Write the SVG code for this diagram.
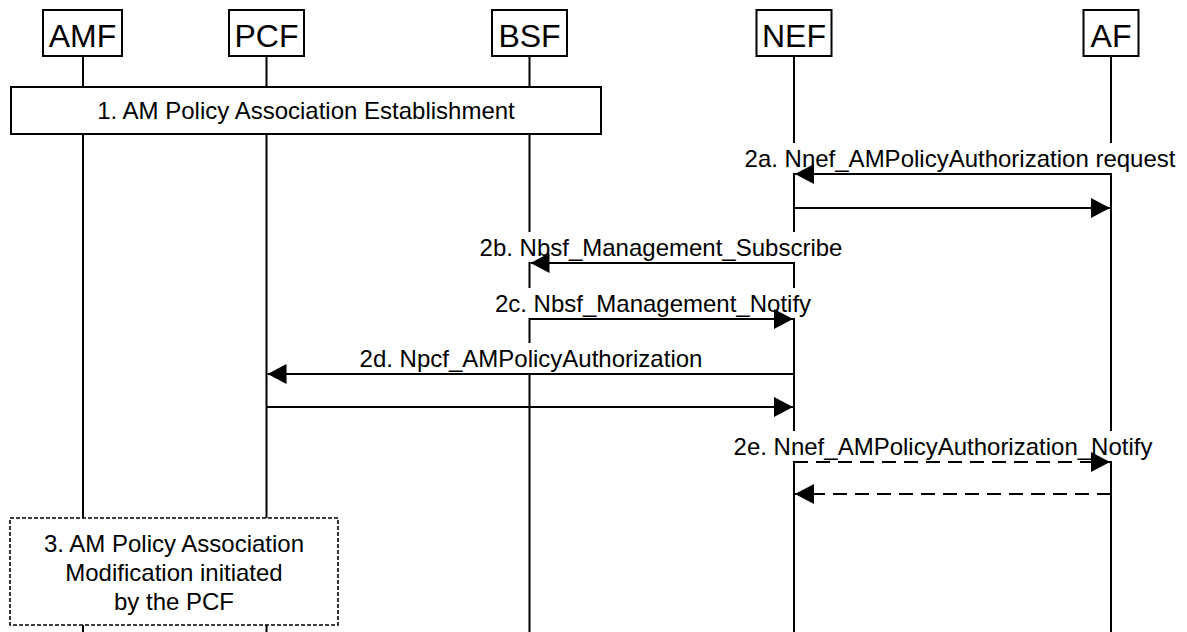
<svg xmlns="http://www.w3.org/2000/svg" width="1187" height="632" viewBox="0 0 1187 632">
<style>
.hdr{fill:#fff;stroke:#000;stroke-width:2}
.hdrt{font-family:"Liberation Sans",Arial,sans-serif;font-size:32px;text-anchor:middle;fill:#000}
.life{stroke:#000;stroke-width:2;fill:none}
.box{fill:#fff;stroke:#000;stroke-width:2}
.dbox{fill:#fff;stroke:#000;stroke-width:1.6;stroke-dasharray:4 2}
.lbl{font-family:"Liberation Sans",Arial,sans-serif;font-size:24px;text-anchor:middle;fill:#000}
.bg{fill:#fff;stroke:none}
.msg{stroke:#000;stroke-width:2;fill:none;marker-end:url(#ah)}
.dash{stroke-dasharray:14 8}
</style>
<defs>
<marker id="ah" markerUnits="userSpaceOnUse" markerWidth="20" markerHeight="20" refX="19" refY="10" orient="auto">
<path d="M0,0 L19,10 L0,20 Z" fill="#000"/>
</marker>
</defs>
<rect width="1187" height="632" fill="#fff"/>
<g id="AMF">
<line class="life" x1="83" y1="56" x2="83" y2="632"/>
<rect class="hdr" x="43" y="10" width="79" height="46"/>
<text class="hdrt" x="82.5" y="47">AMF</text>
</g>
<g id="PCF">
<line class="life" x1="266.5" y1="56" x2="266.5" y2="632"/>
<rect class="hdr" x="229" y="10" width="75" height="46"/>
<text class="hdrt" x="266.5" y="47">PCF</text>
</g>
<g id="BSF">
<line class="life" x1="529.5" y1="56" x2="529.5" y2="632"/>
<rect class="hdr" x="492" y="10" width="75" height="46"/>
<text class="hdrt" x="529.5" y="47">BSF</text>
</g>
<g id="NEF">
<line class="life" x1="794" y1="56" x2="794" y2="632"/>
<rect class="hdr" x="756.5" y="10" width="75" height="46"/>
<text class="hdrt" x="794" y="47">NEF</text>
</g>
<g id="AF">
<line class="life" x1="1111" y1="56" x2="1111" y2="632"/>
<rect class="hdr" x="1083.5" y="10" width="55" height="46"/>
<text class="hdrt" x="1111" y="47">AF</text>
</g>
<g id="step1">
<rect class="box" x="11" y="87" width="590" height="47"/>
<text class="lbl" x="306" y="119">1. AM Policy Association Establishment</text>
</g>
<g id="step3">
<rect class="dbox" x="10" y="518" width="328" height="107"/>
<text class="lbl" x="174" y="552">3. AM Policy Association</text>
<text class="lbl" x="174" y="581">Modification initiated</text>
<text class="lbl" x="174" y="610">by the PCF</text>
</g>
<g id="connectors">
<rect class="bg" x="741" y="143" width="438" height="30"/>
<text class="lbl" x="960" y="167">2a. Nnef_AMPolicyAuthorization request</text>
<line class="msg" x1="1111" y1="174" x2="795" y2="174"/>
<line class="msg" x1="794" y1="208" x2="1110" y2="208"/>
<rect class="bg" x="478" y="232" width="368" height="30"/>
<text class="lbl" x="661" y="256">2b. Nbsf_Management_Subscribe</text>
<line class="msg" x1="794" y1="263" x2="530.5" y2="263"/>
<rect class="bg" x="494" y="288" width="318" height="30"/>
<text class="lbl" x="653" y="312">2c. Nbsf_Management_Notify</text>
<line class="msg" x1="529.5" y1="319" x2="793" y2="319"/>
<rect class="bg" x="366" y="343" width="330" height="30"/>
<text class="lbl" x="531" y="367">2d. Npcf_AMPolicyAuthorization</text>
<line class="msg" x1="794" y1="374" x2="267.5" y2="374"/>
<line class="msg" x1="266.5" y1="407" x2="793" y2="407"/>
<rect class="bg" x="733" y="431" width="420" height="30"/>
<text class="lbl" x="943" y="455">2e. Nnef_AMPolicyAuthorization_Notify</text>
<line class="msg dash" x1="794" y1="462" x2="1110" y2="462"/>
<line class="msg dash" x1="1111" y1="494" x2="795" y2="494"/>
</g>
</svg>
